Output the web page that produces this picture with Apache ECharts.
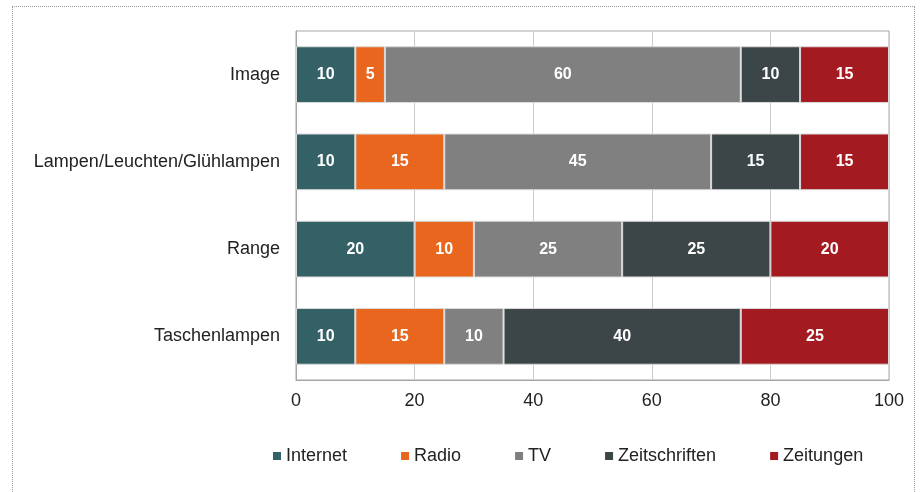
<!DOCTYPE html>
<html>
<head>
<meta charset="utf-8">
<script src="https://cdn.jsdelivr.net/npm/echarts@6/dist/echarts.min.js"></script>
<style>
  html, body { margin: 0; padding: 0; background: #fff; }
  #frame {
    position: absolute; left: 12px; top: 6px; width: 903px; height: 500px;
    border: 1px dotted #9a9a9a; box-sizing: border-box;
  }
  #chart { position: absolute; left: 0; top: 0; width: 924px; height: 492px; }
</style>
</head>
<body>
<div id="frame"></div>
<div id="chart"></div>
<script>
  // categories, top to bottom
  const categories = ['Image', 'Lampen/Leuchten/Glühlampen', 'Range', 'Taschenlampen'];
  const internet = [10, 10, 20, 10];
  const radio = [5, 15, 10, 15];
  const tv = [60, 45, 25, 10];
  const zeitschriften = [10, 15, 25, 40];
  const zeitungen = [15, 15, 20, 25];
  const xTicks = [0, 20, 40, 60, 80, 100];

  const font = 'Liberation Sans, Arial, sans-serif';

  function bar(name, data, color) {
    return {
      name: name,
      type: 'bar',
      stack: 'total',
      data: data,
      barWidth: '65%',
      itemStyle: { color: color, borderColor: '#d9d9d9', borderWidth: 1 },
      label: {
        show: true,
        position: 'inside',
        color: '#fff',
        fontWeight: 'bold',
        fontSize: 16,
        fontFamily: font
      }
    };
  }

  let chart = echarts.init(document.getElementById('chart'));
  chart.setOption({
    animation: false,
    textStyle: { fontFamily: font },
    grid: { left: 296, right: 35, top: 31, bottom: 112, show: true, borderColor: '#a6a6a6', borderWidth: 1 },
    legend: {
      left: 268,
      top: 442,
      itemWidth: 8,
      itemHeight: 8,
      itemGap: 54,
      icon: 'rect',
      itemStyle: { borderWidth: 0 },
      textStyle: { fontSize: 18, color: '#222', fontFamily: font },
      data: ['Internet', 'Radio', 'TV', 'Zeitschriften', 'Zeitungen']
    },
    xAxis: {
      type: 'value',
      min: xTicks[0],
      max: xTicks[xTicks.length - 1],
      interval: 20,
      axisLine: { show: true, lineStyle: { color: '#a6a6a6' } },
      axisTick: { show: false },
      axisLabel: { fontSize: 18, color: '#222', margin: 12, fontFamily: font },
      splitLine: { lineStyle: { color: '#cccccc' } }
    },
    yAxis: {
      type: 'category',
      inverse: true,
      data: categories,
      axisLine: { lineStyle: { color: '#a6a6a6' } },
      axisTick: { show: false },
      axisLabel: { fontSize: 18, color: '#222', margin: 16, fontFamily: font }
    },
    series: [
      bar('Internet', internet, '#336166'),
      bar('Radio', radio, '#e8661e'),
      bar('TV', tv, '#808080'),
      bar('Zeitschriften', zeitschriften, '#3c4547'),
      bar('Zeitungen', zeitungen, '#a31a21')
    ]
  });
</script>
</body>
</html>
